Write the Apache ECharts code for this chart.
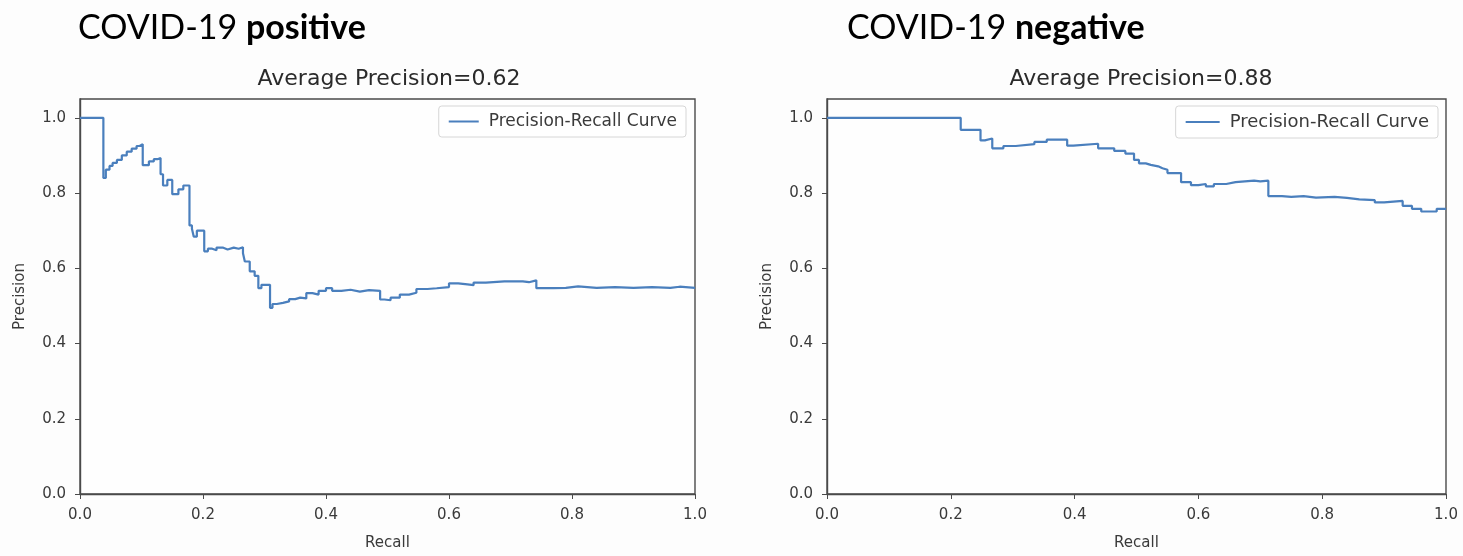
<!DOCTYPE html>
<html>
<head>
<meta charset="utf-8">
<script src="https://cdn.jsdelivr.net/npm/echarts@6/dist/echarts.min.js"></script>
<style>
html,body{margin:0;padding:0;background:#fdfdfd;}
#main{width:1463px;height:556px;}
</style>
</head>
<body>
<div id="main"></div>
<script>
// ---- Data ----
const xTicks = [0, 0.2, 0.4, 0.6, 0.8, 1.0];
const yTicks = [0, 0.2, 0.4, 0.6, 0.8, 1.0];

const headerLeft = ['COVID-19 ', 'positive'];
const headerRight = ['COVID-19 ', 'negative'];
const titleLeft = 'Average Precision=0.62';
const titleRight = 'Average Precision=0.88';
const seriesName = 'Precision-Recall Curve';

const posRecall = [0.000,0.038,0.042,0.048,0.053,0.060,0.068,0.076,0.084,0.092,0.097,0.102,0.112,0.120,0.126,0.131,0.135,0.142,0.150,0.160,0.168,0.178,0.182,0.185,0.190,0.202,0.208,0.215,0.222,0.232,0.240,0.250,0.258,0.265,0.268,0.276,0.284,0.290,0.295,0.309,0.313,0.320,0.330,0.340,0.350,0.358,0.368,0.378,0.388,0.400,0.410,0.425,0.440,0.455,0.470,0.488,0.495,0.505,0.520,0.535,0.547,0.565,0.580,0.600,0.615,0.630,0.640,0.660,0.690,0.720,0.730,0.742,0.770,0.790,0.810,0.840,0.870,0.900,0.930,0.960,0.975,1.000];
const posPrecision = [1.000,0.840,0.862,0.872,0.880,0.888,0.900,0.910,0.918,0.925,0.930,0.874,0.884,0.890,0.893,0.850,0.820,0.835,0.797,0.810,0.820,0.714,0.705,0.684,0.700,0.645,0.652,0.648,0.655,0.650,0.655,0.652,0.656,0.640,0.618,0.592,0.580,0.547,0.556,0.495,0.505,0.508,0.512,0.518,0.522,0.520,0.534,0.530,0.540,0.547,0.540,0.543,0.538,0.542,0.540,0.517,0.515,0.522,0.530,0.535,0.545,0.547,0.550,0.560,0.557,0.555,0.562,0.565,0.565,0.563,0.568,0.547,0.548,0.552,0.548,0.550,0.548,0.550,0.548,0.551,0.548,0.547];

const negRecall = [0.000,0.216,0.248,0.255,0.267,0.285,0.305,0.335,0.355,0.388,0.398,0.438,0.464,0.482,0.496,0.504,0.515,0.523,0.535,0.542,0.550,0.572,0.588,0.600,0.612,0.625,0.645,0.660,0.690,0.700,0.713,0.735,0.750,0.770,0.790,0.820,0.840,0.860,0.885,0.900,0.930,0.945,0.960,0.985,1.000];
const negPrecision = [1.000,0.968,0.940,0.945,0.919,0.925,0.930,0.936,0.942,0.926,0.931,0.919,0.912,0.905,0.888,0.879,0.875,0.871,0.866,0.862,0.853,0.829,0.821,0.824,0.818,0.824,0.829,0.833,0.831,0.833,0.792,0.790,0.792,0.788,0.790,0.787,0.783,0.781,0.775,0.779,0.766,0.758,0.751,0.758,0.758];

// ---- Chart ----
const lineColor = '#4a7fbd';
const axisColor = '#4a4a4a';
const textColor = '#3a3a3a';
const baseFont = 'DejaVu Sans';

function zip(a, b) { return a.map((v, i) => [v, b[i]]); }

function xAxisCfg(gi) {
  return {
    type: 'value', gridIndex: gi, min: 0, max: 1, interval: 0.2,
    name: 'Recall', nameLocation: 'middle', nameGap: 42,
    nameTextStyle: {fontFamily: baseFont, fontSize: 15, color: textColor},
    axisLine: {show: true, onZero: false, lineStyle: {color: axisColor, width: 1.4}},
    axisTick: {show: true, length: 5, inside: false, lineStyle: {color: axisColor}},
    axisLabel: {fontFamily: baseFont, fontSize: 15, color: textColor, margin: 14,
      formatter: v => v.toFixed(1)},
    splitLine: {show: false}
  };
}
function yAxisCfg(gi) {
  return {
    type: 'value', gridIndex: gi, min: 0, max: 1.05, interval: 0.2,
    name: 'Precision', nameLocation: 'middle', nameGap: 52, nameRotate: 90,
    nameTextStyle: {fontFamily: baseFont, fontSize: 15, color: textColor},
    axisLine: {show: true, onZero: false, lineStyle: {color: axisColor, width: 1.4}},
    axisTick: {show: true, length: 5, inside: false, lineStyle: {color: axisColor}, customValues: yTicks},
    axisLabel: {fontFamily: baseFont, fontSize: 15, color: textColor, margin: 14,
      customValues: yTicks, formatter: v => v.toFixed(1)},
    splitLine: {show: false}
  };
}

function headerText(x, parts) {
  return {
    type: 'text', x: x, y: 28,
    style: {
      text: '{a|' + parts[0] + '}{b|' + parts[1] + '}',
      verticalAlign: 'middle', align: 'left',
      rich: {
        a: {fontFamily: 'Lato', fontSize: 34, color: '#1a1a1a', fontWeight: 'normal'},
        b: {fontFamily: 'Lato', fontSize: 34, color: '#000', fontWeight: 'bold'}
      }
    }
  };
}
function titleText(x, t) {
  return {
    type: 'text', x: x, y: 79,
    style: {text: t, align: 'center', verticalAlign: 'middle',
      fontFamily: baseFont, fontSize: 22, fill: '#2a2a2a'}
  };
}

function legendCfg(right, fs, iw) {
  return {right: right, top: 106, data: [seriesName], icon: 'rect', itemWidth: iw, itemHeight: 2, itemGap: 8,
    padding: [7, 9, 7, 10], borderColor: '#d6d6d6', borderWidth: 1, borderRadius: 3, backgroundColor: '#fff',
    textStyle: {fontFamily: baseFont, fontSize: fs, color: textColor, padding: [0, 0, 0, 5]}};
}

const chart = echarts.init(document.getElementById('main'), null, {renderer: 'canvas'});
chart.setOption({
  backgroundColor: '#fdfdfd',
  animation: false,
  grid: [
    {left: 80, right: 768, top: 99, bottom: 58, show: true, borderColor: axisColor, borderWidth: 1.4, backgroundColor: '#fefefe'},
    {left: 827, right: 17, top: 99, bottom: 56, show: true, borderColor: axisColor, borderWidth: 1.4, backgroundColor: '#fefefe'}
  ],
  xAxis: [xAxisCfg(0), xAxisCfg(1)],
  yAxis: [yAxisCfg(0), yAxisCfg(1)],
  legend: [legendCfg(777, 17, 30), legendCfg(25, 18, 34)],
  graphic: [
    headerText(78, headerLeft),
    headerText(847, headerRight),
    titleText(389, titleLeft),
    titleText(1141, titleRight)
  ],
  series: [
    {name: seriesName, type: 'line', xAxisIndex: 0, yAxisIndex: 0, step: 'end', symbol: 'none',
      data: zip(posRecall, posPrecision), lineStyle: {color: lineColor, width: 2.2}, itemStyle: {color: lineColor}},
    {name: seriesName, type: 'line', xAxisIndex: 1, yAxisIndex: 1, step: 'end', symbol: 'none',
      data: zip(negRecall, negPrecision), lineStyle: {color: lineColor, width: 2.2}, itemStyle: {color: lineColor}}
  ]
});
</script>
</body>
</html>
